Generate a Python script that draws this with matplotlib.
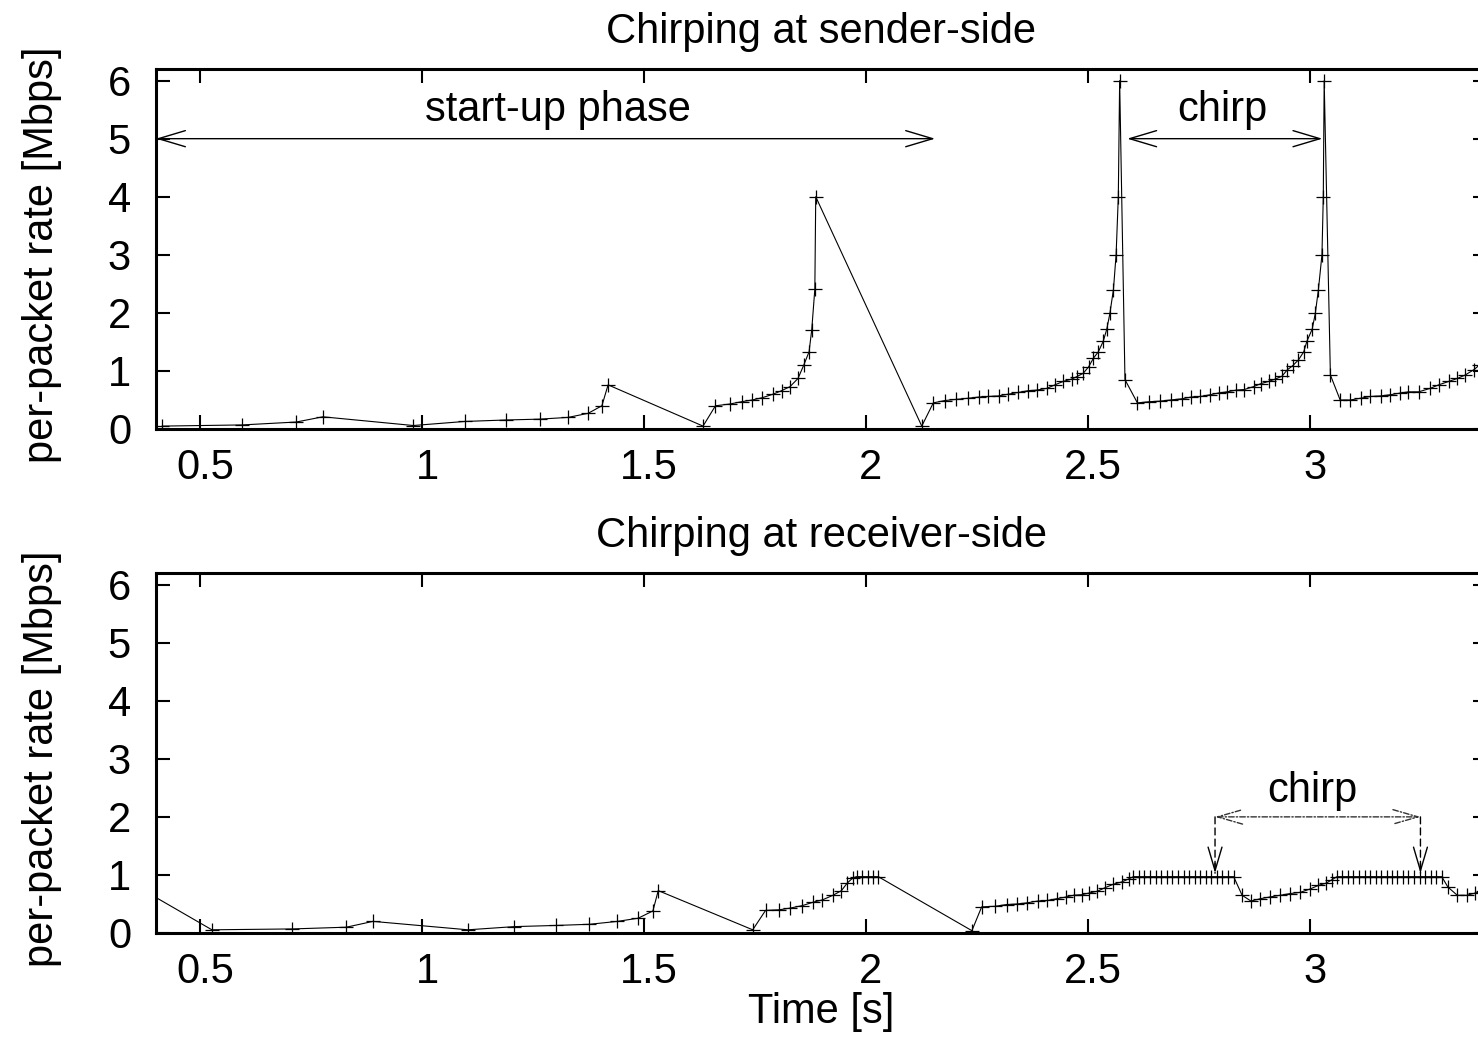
import matplotlib
matplotlib.use('Agg')
import matplotlib.pyplot as plt
from matplotlib.transforms import ScaledTranslation

plt.rcParams['font.family'] = ['Liberation Sans', 'DejaVu Sans']

# ---------------- data ----------------
x_ticks = [0.5, 1, 1.5, 2, 2.5, 3]
x_tick_labels = ['0.5', '1', '1.5', '2', '2.5', '3']
y_ticks = [0, 1, 2, 3, 4, 5, 6]

sender_time = [0.414, 0.594, 0.716, 0.776, 0.980, 1.096, 1.188, 1.265, 1.329, 1.374, 1.405, 1.419,
               1.633, 1.661, 1.693, 1.720, 1.744, 1.767, 1.791, 1.810, 1.829, 1.847, 1.860, 1.872,
               1.878, 1.885, 1.887,
               2.126, 2.152, 2.178, 2.203, 2.231, 2.254, 2.276, 2.299, 2.321, 2.344, 2.366, 2.385,
               2.408, 2.426, 2.445, 2.464, 2.475, 2.490, 2.502, 2.513, 2.524, 2.535, 2.543, 2.550,
               2.558, 2.564, 2.569, 2.572,
               2.584, 2.612, 2.639, 2.663, 2.687, 2.712, 2.733, 2.754, 2.776, 2.795, 2.814, 2.835,
               2.853, 2.874, 2.890, 2.908, 2.923, 2.938, 2.950, 2.962, 2.975, 2.987, 2.994, 3.006,
               3.013, 3.020, 3.028, 3.031, 3.033,
               3.047, 3.069, 3.092, 3.115, 3.137, 3.160, 3.182, 3.205, 3.223, 3.246, 3.272, 3.291,
               3.314, 3.333, 3.351, 3.370, 3.383]
sender_rate = [0.05, 0.07, 0.12, 0.21, 0.06, 0.13, 0.155, 0.17, 0.20, 0.27, 0.40, 0.76,
               0.05, 0.40, 0.43, 0.47, 0.50, 0.54, 0.60, 0.66, 0.73, 0.87, 1.10, 1.33,
               1.71, 2.41, 4.0,
               0.05, 0.45, 0.49, 0.51, 0.53, 0.55, 0.56, 0.57, 0.60, 0.63, 0.66, 0.67,
               0.70, 0.76, 0.82, 0.86, 0.90, 0.96, 1.07, 1.22, 1.33, 1.51, 1.72, 1.99,
               2.40, 3.0, 4.0, 6.0,
               0.85, 0.45, 0.47, 0.48, 0.50, 0.52, 0.55, 0.56, 0.59, 0.62, 0.64, 0.67,
               0.68, 0.73, 0.78, 0.82, 0.86, 0.91, 1.02, 1.09, 1.19, 1.33, 1.51, 1.72,
               1.99, 2.40, 3.0, 4.0, 6.0,
               0.93, 0.50, 0.50, 0.53, 0.56, 0.57, 0.59, 0.62, 0.64, 0.64, 0.70, 0.76,
               0.82, 0.87, 0.93, 1.02, 1.10]

receiver_time = [0.330, 0.526, 0.707, 0.829, 0.889, 1.103, 1.208, 1.301, 1.377, 1.440, 1.487, 1.520,
                 1.532,
                 1.745, 1.774, 1.805, 1.830, 1.856, 1.881, 1.902, 1.926, 1.945, 1.958, 1.971,
                 1.979, 1.992, 2.005, 2.017, 2.028,
                 2.239, 2.261, 2.291, 2.317, 2.341, 2.364, 2.387, 2.409, 2.430, 2.451, 2.468,
                 2.487, 2.504, 2.522, 2.539, 2.558, 2.577, 2.592,
                 2.603, 2.616, 2.628, 2.641, 2.653, 2.666, 2.678, 2.691, 2.703, 2.716, 2.728,
                 2.741, 2.753, 2.766, 2.778, 2.791, 2.803, 2.816, 2.829,
                 2.848, 2.868, 2.889, 2.910, 2.934, 2.957, 2.979, 3.002, 3.020, 3.038, 3.051,
                 3.062, 3.074, 3.087, 3.099, 3.112, 3.124, 3.136, 3.149, 3.161, 3.174, 3.186,
                 3.198, 3.211, 3.223, 3.236, 3.248, 3.260, 3.273, 3.285, 3.298,
                 3.312, 3.333, 3.355, 3.374, 3.392]
receiver_rate = [0.92, 0.055, 0.07, 0.10, 0.20, 0.055, 0.11, 0.13, 0.15, 0.20, 0.255, 0.38,
                 0.73,
                 0.055, 0.39, 0.40, 0.43, 0.47, 0.53, 0.57, 0.65, 0.73, 0.86, 0.95,
                 0.97, 0.97, 0.97, 0.97, 0.97,
                 0.04, 0.45, 0.46, 0.49, 0.50, 0.52, 0.55, 0.56, 0.59, 0.62, 0.65,
                 0.66, 0.69, 0.72, 0.78, 0.84, 0.88, 0.93,
                 0.97, 0.97, 0.97, 0.97, 0.97, 0.97, 0.97, 0.97, 0.97, 0.97, 0.97,
                 0.97, 0.97, 0.97, 0.97, 0.97, 0.97, 0.97, 0.97,
                 0.65, 0.55, 0.59, 0.62, 0.65, 0.68, 0.70, 0.76, 0.82, 0.86, 0.92,
                 0.97, 0.97, 0.97, 0.97, 0.97, 0.97, 0.97, 0.97, 0.97, 0.97, 0.97,
                 0.97, 0.97, 0.97, 0.97, 0.97, 0.97, 0.97, 0.97, 0.97,
                 0.79, 0.65, 0.65, 0.69, 0.72]

# ---------------- figure ----------------
W, H = 1478, 1040
fig = plt.figure(figsize=(W / 100, H / 100), dpi=100)
left = 156 / W
width = (1487 - 156) / W
ax1 = fig.add_axes([left, 1 - 429 / H, width, 360 / H])
ax2 = fig.add_axes([left, 1 - 933 / H, width, 360 / H])

FS = 30


def style(ax, title):
    ax.set_xlim(0.4, 3.4)
    ax.set_ylim(0, 6.2)
    ax.set_xticks(x_ticks, x_tick_labels)
    ax.set_yticks(y_ticks)
    ax.tick_params(direction='in', length=10, width=1.5, top=True, right=True,
                   labelsize=FS, color='k')
    ax.tick_params(axis='x', pad=14)
    ax.tick_params(axis='y', pad=18)
    for s in ax.spines.values():
        s.set_linewidth(2.2)
    ax.set_title(title, fontsize=FS, pad=19)
    ax.set_ylabel('per-packet rate [Mbps]', fontsize=FS, va='center')
    ax.yaxis.set_label_coords(-0.0857, 0.485)
    shift = ScaledTranslation(5 / 100, 0, fig.dpi_scale_trans)
    for tick in ax.xaxis.get_major_ticks():
        tick.label1.set_transform(tick.label1.get_transform() + shift)


style(ax1, 'Chirping at sender-side')
style(ax2, 'Chirping at receiver-side')

line_kw = dict(color='k', lw=0.8, marker='+', ms=10, mew=0.9)
ax1.plot(sender_time, sender_rate, **line_kw)
ax2.plot(receiver_time, receiver_rate, **line_kw)

dbl = dict(arrowstyle='<->,head_length=0.97,head_width=0.29', mutation_scale=20,
           lw=1.0, color='k', shrinkA=0, shrinkB=0)
ax1.annotate('', xy=(2.156, 5.0), xytext=(0.4, 5.0), arrowprops=dbl)
ax1.text(1.305, 5.5, 'start-up phase', ha='center', va='center', fontsize=FS)
ax1.annotate('', xy=(3.029, 5.0), xytext=(2.589, 5.0), arrowprops=dbl)
ax1.text(2.803, 5.5, 'chirp', ha='center', va='center', fontsize=FS)

# receiver-side chirp marker: dash-dot double arrow plus dashed drop lines
dbl2 = dict(arrowstyle='<->,head_length=0.9,head_width=0.26', mutation_scale=20,
            lw=1.0, color='0.2', shrinkA=0, shrinkB=0, linestyle=(0, (4, 1.5, 1, 1.5)))
ax2.annotate('', xy=(3.250, 2.0), xytext=(2.787, 2.0), arrowprops=dbl2)
drop_line = dict(arrowstyle='-', lw=1.0, color='k', shrinkA=0, shrinkB=0,
                 linestyle=(0, (5, 3)))
drop_head = dict(arrowstyle='->,head_length=0.85,head_width=0.25', mutation_scale=20,
                 lw=1.0, color='k', shrinkA=0, shrinkB=0)
for xa in (2.787, 3.250):
    ax2.annotate('', xy=(xa, 1.03), xytext=(xa, 2.0), arrowprops=drop_line)
    ax2.annotate('', xy=(xa, 1.03), xytext=(xa, 1.2), arrowprops=drop_head)
ax2.text(3.006, 2.45, 'chirp', ha='center', va='center', fontsize=FS)

ax2.set_xlabel('Time [s]', fontsize=FS)
ax2.xaxis.set_label_coords(0.5, -0.165)

fig.savefig('out.png', dpi=100)
